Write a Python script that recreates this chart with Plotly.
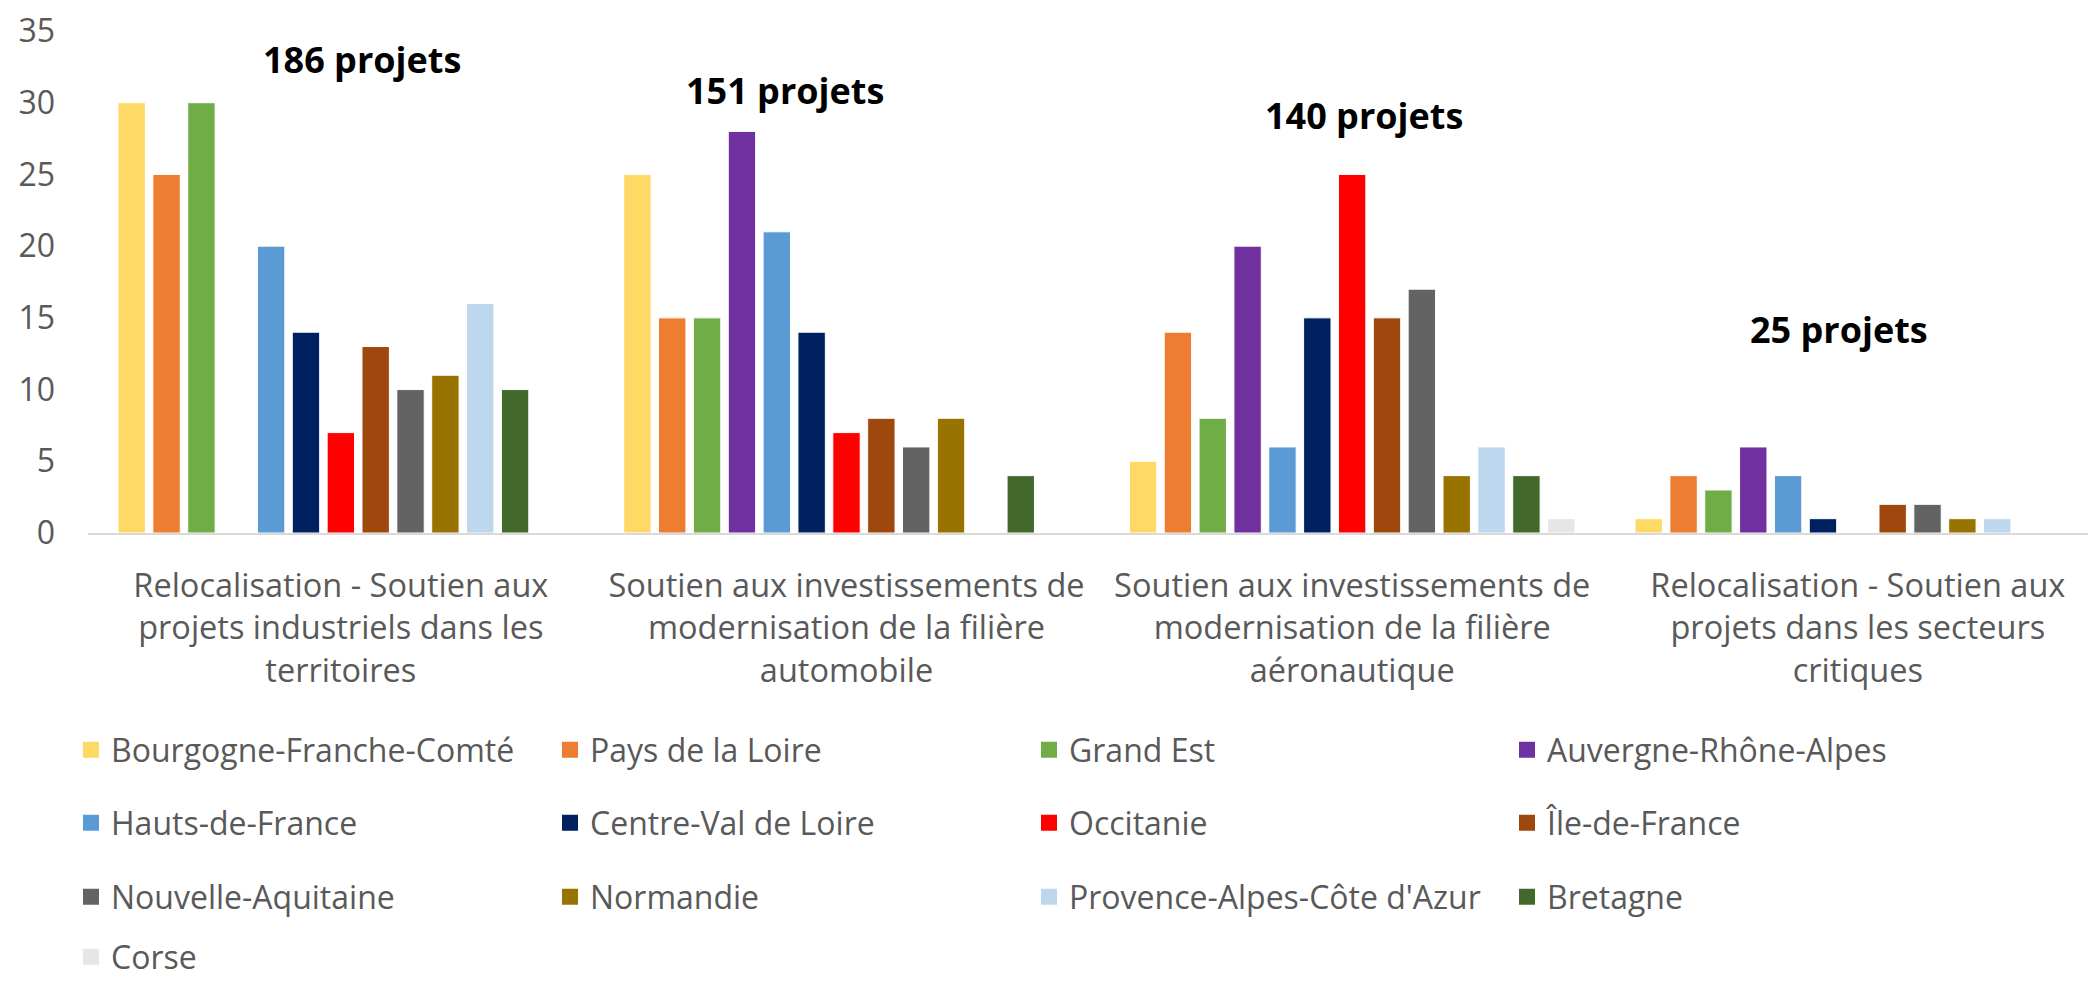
import plotly.graph_objects as go

categories = [
    "Relocalisation - Soutien aux<br>projets industriels dans les<br>territoires",
    "Soutien aux investissements de<br>modernisation de la filière<br>automobile",
    "Soutien aux investissements de<br>modernisation de la filière<br>aéronautique",
    "Relocalisation - Soutien aux<br>projets dans les secteurs<br>critiques",
]

regions = [
    "Bourgogne-Franche-Comté", "Pays de la Loire", "Grand Est", "Auvergne-Rhône-Alpes",
    "Hauts-de-France", "Centre-Val de Loire", "Occitanie", "Île-de-France",
    "Nouvelle-Aquitaine", "Normandie", "Provence-Alpes-Côte d'Azur", "Bretagne",
    "Corse",
]

bourgogne = [30, 25, 5, 1]
pays_loire = [25, 15, 14, 4]
grand_est = [30, 15, 8, 3]
auvergne = [0, 28, 20, 6]
hauts_france = [20, 21, 6, 4]
centre_val = [14, 14, 15, 1]
occitanie = [7, 7, 25, 0]
ile_france = [13, 8, 15, 2]
nouvelle_aq = [10, 6, 17, 2]
normandie = [11, 8, 4, 1]
paca = [16, 0, 6, 1]
bretagne = [10, 4, 4, 0]
corse = [0, 0, 1, 0]

series = [bourgogne, pays_loire, grand_est, auvergne, hauts_france, centre_val,
          occitanie, ile_france, nouvelle_aq, normandie, paca, bretagne, corse]

colors = ["#FFD966", "#ED7D31", "#70AD47", "#7030A0", "#5B9BD5", "#002060",
          "#FF0000", "#9E480E", "#636363", "#997300", "#BDD7EE", "#43682B",
          "#E7E6E6"]

FONT = "Open Sans"
OFF = 8                      # default page body margin
W, H = 2096 - OFF, 981 - OFF

# legend grid (page pixel positions of symbol-left / row centre)
col_x = [80, 559, 1038, 1516]
row_y = [750, 823, 897, 957]

fig = go.Figure()
legend_layouts = {}
for i, (name, vals, col) in enumerate(zip(regions, series, colors)):
    lname = "legend" if i == 0 else f"legend{i + 1}"
    fig.add_trace(go.Bar(
        x=categories, y=vals, name=name,
        marker=dict(color=col, line=dict(color="white", width=1)),
        legend=lname, legendgroup=name, showlegend=False,
    ))
    # legend entry with a larger square key
    fig.add_trace(go.Scatter(
        x=[categories[0]], y=[None], name=name, mode="markers",
        marker=dict(symbol="square", size=16, color=col, line=dict(width=0)),
        legend=lname, legendgroup=name, showlegend=True, hoverinfo="skip",
    ))
    r, c = divmod(i, 4)
    legend_layouts[lname] = dict(
        xref="container", yref="container",
        x=(col_x[c] - 9 - OFF) / W, xanchor="left",
        y=1 - (row_y[r] - OFF) / H, yanchor="middle",
        font=dict(family=FONT, size=32, color="#595959"),
        bgcolor="rgba(0,0,0,0)", borderwidth=0,
        orientation="h", itemsizing="trace",
    )

totals = [sum(s[k] for s in series) for k in range(len(categories))]
label_pos = [(0.041, 33.0), (0.878, 30.85), (2.024, 29.12), (2.962, 14.22)]
annotations = []
for k, t in enumerate(totals):
    ax, ay = label_pos[k]
    annotations.append(dict(
        x=ax, y=ay, xref="x", yref="y", text=f"<b>{t} projets</b>",
        showarrow=False, xanchor="center", yanchor="middle",
        font=dict(family=FONT, size=36, color="#000000"),
    ))

fig.update_layout(
    width=W, height=H, showlegend=True,
    margin=dict(l=88 - OFF, r=0, t=26 - OFF, b=448, pad=0),
    paper_bgcolor="white", plot_bgcolor="white",
    barmode="group", bargap=0.104, bargroupgap=0.214,
    font=dict(family=FONT, color="#595959"),
    annotations=annotations,
    **legend_layouts,
)
fig.update_xaxes(
    type="category", range=[-0.5, 3.471],
    showline=True, linecolor="#D9D9D9", linewidth=2,
    showgrid=False, zeroline=False, ticks="",
    tickfont=dict(family=FONT, size=32.5, color="#595959"),
    ticklabelstandoff=23,
)
fig.update_yaxes(
    range=[0, 35], tickvals=[0, 5, 10, 15, 20, 25, 30, 35],
    showline=False, showgrid=False, zeroline=False, ticks="",
    tickfont=dict(family=FONT, size=32, color="#595959"),
    ticklabelstandoff=32, ticklabeloverflow="allow",
)

fig.write_html("out.html")
